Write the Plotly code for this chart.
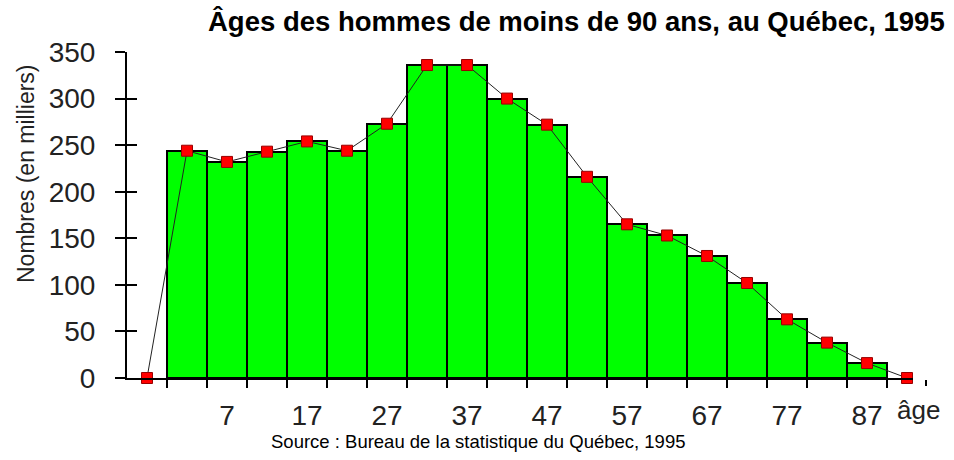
import plotly.graph_objects as go

# tranches d'âge de 5 ans (début de tranche) et nombres en milliers
debut_tranche = [0, 5, 10, 15, 20, 25, 30, 35, 40, 45, 50, 55, 60, 65, 70, 75, 80, 85]
nombres = [244, 232, 243, 254, 244, 273, 336, 336, 300, 272, 216, 165, 153, 131, 102, 63, 38, 16]
etiquettes_x = ['7', '17', '27', '37', '47', '57', '67', '77', '87']
graduations_y = [0, 50, 100, 150, 200, 250, 300, 350]

largeur = 5
centres = [d + largeur / 2 for d in debut_tranche]
# polygone des effectifs : on ferme avec une tranche vide de chaque côté
poly_x = [centres[0] - largeur] + centres + [centres[-1] + largeur]
poly_y = [0] + nombres + [0]
pos_etiquettes = [centres[i] for i in range(1, len(centres), 2)]

police = "Liberation Sans, Arial, sans-serif"

# zone de tracé en pixels
G, D, H, B = 127, 913, 52, 378
W, HT = 954, 460


def px_x(p):
    return (p - G) / (D - G)


def px_y(p):
    return (B - p) / (B - H)


fig = go.Figure()
fig.add_trace(go.Bar(
    x=centres,
    y=nombres,
    width=largeur,
    marker=dict(color="#00FF00", line=dict(color="black", width=2)),
    hoverinfo="y",
))
fig.add_trace(go.Scatter(
    x=poly_x,
    y=poly_y,
    mode="lines+markers",
    line=dict(color="#222222", width=1),
    marker=dict(symbol="square", size=11, color="#FF0000",
                line=dict(color="#990000", width=1)),
    cliponaxis=False,
))
# axe secondaire pour les étiquettes centrées sous les barres
fig.add_trace(go.Scatter(x=[poly_x[0]], y=[0], xaxis="x2", mode="markers",
                         marker=dict(opacity=0), hoverinfo="skip"))
# axe secondaire pour les graduations vers l'intérieur
fig.add_trace(go.Scatter(x=[poly_x[0]], y=[0], yaxis="y2", mode="markers",
                         marker=dict(opacity=0), hoverinfo="skip"))

xrange = [-5, 93.25]
yrange = [0, 350]

fig.update_layout(
    width=W, height=HT,
    margin=dict(l=G, r=W - D, t=H, b=HT - B, autoexpand=False),
    plot_bgcolor="white",
    paper_bgcolor="white",
    showlegend=False,
    bargap=0,
    font=dict(family=police, color="#222222"),
    xaxis=dict(
        range=xrange,
        tickvals=[d for d in debut_tranche] + [debut_tranche[-1] + largeur],
        showticklabels=False,
        ticks="outside", ticklen=8, tickwidth=2, tickcolor="black",
        showline=True, linecolor="black", linewidth=2,
        showgrid=False, zeroline=False, automargin=False,
    ),
    xaxis2=dict(
        range=xrange,
        overlaying="x",
        side="bottom",
        tickvals=pos_etiquettes,
        ticktext=etiquettes_x,
        ticks="",
        ticklabelstandoff=18,
        tickfont=dict(family=police, size=28, color="#222222"),
        showline=False, showgrid=False, zeroline=False, automargin=False,
    ),
    yaxis=dict(
        range=yrange,
        tickvals=graduations_y,
        ticks="outside", ticklen=10, tickwidth=2, tickcolor="black",
        ticklabelstandoff=14,
        tickfont=dict(family=police, size=28, color="#222222"),
        showline=True, linecolor="black", linewidth=2,
        showgrid=False, zeroline=False, automargin=False,
    ),
    yaxis2=dict(
        range=yrange,
        overlaying="y",
        side="left",
        tickvals=graduations_y,
        showticklabels=False,
        ticks="inside", ticklen=10, tickwidth=2, tickcolor="black",
        showline=False, showgrid=False, zeroline=False, automargin=False,
    ),
    annotations=[
        dict(text="<b>Âges des hommes de moins de 90 ans, au Québec, 1995</b>",
             xref="paper", yref="paper", x=px_x(576), y=px_y(21),
             xanchor="center", yanchor="middle", showarrow=False,
             font=dict(family=police, size=27.5, color="black")),
        dict(text="Nombres (en milliers)", textangle=-90,
             xref="paper", yref="paper", x=px_x(26), y=px_y(173),
             xanchor="center", yanchor="middle", showarrow=False,
             font=dict(family=police, size=23, color="#222222")),
        dict(text="âge", xref="paper", yref="paper",
             x=px_x(919), y=px_y(410),
             xanchor="center", yanchor="middle", showarrow=False,
             font=dict(family=police, size=26, color="#222222")),
        dict(text="Source : Bureau de la statistique du Québec, 1995",
             xref="paper", yref="paper",
             x=px_x(478), y=px_y(441),
             xanchor="center", yanchor="middle", showarrow=False,
             font=dict(family=police, size=18.5, color="black")),
    ],
    shapes=[
        dict(type="line", xref="paper", yref="paper",
             x0=px_x(926), x1=px_x(926),
             y0=px_y(380), y1=px_y(386),
             line=dict(color="black", width=2)),
    ],
)

# la page HTML ajoute une marge de 8 px autour du graphique : on l'enlève
fig.write_html("out.html", config={"displayModeBar": False},
               post_script="document.body.style.margin='0';")
